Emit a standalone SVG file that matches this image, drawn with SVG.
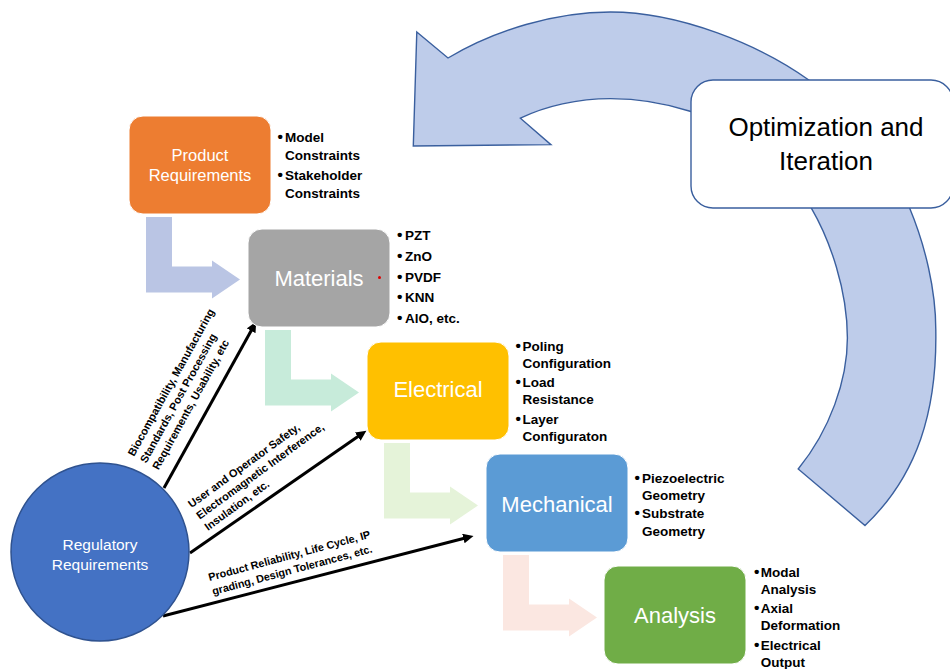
<svg xmlns="http://www.w3.org/2000/svg" width="950" height="669" viewBox="0 0 950 669">
<style>
.nt{font-family:"Liberation Sans",Arial,sans-serif;fill:#fff;text-anchor:middle}
.big{font-size:22px}
.bul{font-family:"Liberation Sans",Arial,sans-serif;font-weight:bold;font-size:13.5px;fill:#000}
.b{font-size:15.5px}
.lbl{font-family:"Liberation Sans",Arial,sans-serif;font-weight:bold;font-size:11px;fill:#000}
.box{stroke:#fff;stroke-width:1}
.blk{stroke:#000;stroke-width:3;fill:none;marker-end:url(#ah)}
</style>
<defs>
<marker id="ah" markerUnits="userSpaceOnUse" markerWidth="12" markerHeight="11" refX="2" refY="5" orient="auto">
<path d="M0,0 L10.5,5 L0,10 z" fill="#000"/>
</marker>
</defs>
<rect width="950" height="669" fill="#fff"/>

<g id="connectors">
<path id="loop-arrow" d="M416.8,32 L448,58 C495,30 555,12 610.5,12 C680,12 760,45 808.8,80 C850,110 890,160 909.5,207.8 C925,245 936,290 935.8,331 C937,410 918,475 865,525.5 L798.2,469 C830,430 847.4,380 847.4,338 C847.4,290 830,240 811.2,207.8 C780,160 730,125 691,111.5 C665,103 640,98.6 610.5,98.6 C578,98.6 545,106 520.4,118.2 L550.9,144.6 L413.3,146 Z" fill="#BECCEA" stroke="#3A5F9E" stroke-width="1.4" stroke-linejoin="miter"/>
<path id="flow1" d="M146,217 H172 V266.5 H212 V260.5 L240,279.5 L212,298.5 V292.5 H146 Z" fill="#BAC5E4"/>
<path id="flow2" d="M265,330 H291 V379.5 H331 V373.5 L359,392.5 L331,411.5 V405.5 H265 Z" fill="#C7EBDA"/>
<path id="flow3" d="M384,443 H410 V492.5 H450 V486.5 L478,505.5 L450,524.5 V518.5 H384 Z" fill="#E5F3D9"/>
<path id="flow4" d="M503,555 H529 V604.5 H569 V598.5 L597,617.5 L569,636.5 V630.5 H503 Z" fill="#FBE7E1"/>
<path class="blk" d="M164,488 L252.1,329"/>
<path class="blk" d="M190,553 L359.4,435.6"/>
<path class="blk" d="M163,616 L465.3,538"/>
<g class="lbl">
<text transform="translate(134,457) rotate(-61)"><tspan x="0" y="0">Biocompatibility, Manufacturing</tspan><tspan x="0" y="14">Standards, Post Processing</tspan><tspan x="0" y="28">Requirements, Usability, etc</tspan></text>
<text transform="translate(191.5,508.3) rotate(-36)"><tspan x="0" y="0">User and Operator Safety,</tspan><tspan x="0" y="14">Electromagnetic Interference,</tspan><tspan x="0" y="28">Insulation, etc.</tspan></text>
<text transform="translate(209.5,581) rotate(-15)" style="font-size:10.8px"><tspan x="0" y="0">Product Reliability, Life Cycle, IP</tspan><tspan x="0" y="14.5">grading, Design Tolerances, etc.</tspan></text>
</g>
</g>

<g id="optimization">
<rect x="691" y="80" width="262" height="128" rx="22" fill="#fff" stroke="#3A5F9E" stroke-width="1.4"/>
<text x="826" y="136" style="font-family:'Liberation Sans',Arial,sans-serif;font-size:26px;fill:#000;text-anchor:middle">Optimization and</text>
<text x="826" y="169.5" style="font-family:'Liberation Sans',Arial,sans-serif;font-size:26px;fill:#000;text-anchor:middle">Iteration</text>
</g>

<g id="product">
<rect class="box" x="129" y="116" width="142" height="98" rx="14" fill="#ED7D31"/>
<text class="nt" x="200" y="160.5" style="font-size:16.5px">Product</text>
<text class="nt" x="200" y="181" style="font-size:16.5px">Requirements</text>
<text class="bul"><tspan class="b" x="277.5" y="141.5">•</tspan><tspan x="285">Model</tspan><tspan x="285" y="160">Constraints</tspan><tspan class="b" x="277.5" y="179.5">•</tspan><tspan x="285">Stakeholder</tspan><tspan x="285" y="197.5">Constraints</tspan></text>
</g>

<g id="materials">
<rect class="box" x="248" y="229" width="142" height="98" rx="14" fill="#A5A5A5"/>
<text class="nt big" x="319" y="286">Materials</text>
<circle cx="379.5" cy="277.5" r="1.5" fill="#E00000"/>
<text class="bul"><tspan class="b" x="397" y="240">•</tspan><tspan x="405">PZT</tspan><tspan class="b" x="397" y="261">•</tspan><tspan x="405">ZnO</tspan><tspan class="b" x="397" y="281.5">•</tspan><tspan x="405">PVDF</tspan><tspan class="b" x="397" y="302.3">•</tspan><tspan x="405">KNN</tspan><tspan class="b" x="397" y="323">•</tspan><tspan x="405">AlO, etc.</tspan></text>
</g>

<g id="electrical">
<rect class="box" x="367" y="342" width="142" height="98" rx="14" fill="#FFC000"/>
<text class="nt big" x="438" y="397">Electrical</text>
<text class="bul"><tspan class="b" x="515.5" y="351">•</tspan><tspan x="522.5">Poling</tspan><tspan x="522.5" y="367.5">Configuration</tspan><tspan class="b" x="515.5" y="387">•</tspan><tspan x="522.5">Load</tspan><tspan x="522.5" y="403.5">Resistance</tspan><tspan class="b" x="515.5" y="423.5">•</tspan><tspan x="522.5">Layer</tspan><tspan x="522.5" y="440.5">Configuraton</tspan></text>
</g>

<g id="mechanical">
<rect class="box" x="486" y="454" width="142" height="98" rx="14" fill="#5B9BD5"/>
<text class="nt big" x="557" y="511.5">Mechanical</text>
<text class="bul"><tspan class="b" x="634.5" y="483">•</tspan><tspan x="642">Piezoelectric</tspan><tspan x="642" y="499.5">Geometry</tspan><tspan class="b" x="634.5" y="518">•</tspan><tspan x="642">Substrate</tspan><tspan x="642" y="536">Geometry</tspan></text>
</g>

<g id="analysis">
<rect class="box" x="604" y="566" width="142" height="98" rx="14" fill="#70AD47"/>
<text class="nt big" x="675" y="623">Analysis</text>
<text class="bul"><tspan class="b" x="754" y="577">•</tspan><tspan x="760.7">Modal</tspan><tspan x="760.7" y="593.5">Analysis</tspan><tspan class="b" x="754" y="613">•</tspan><tspan x="760.7">Axial</tspan><tspan x="760.7" y="630">Deformation</tspan><tspan class="b" x="754" y="650">•</tspan><tspan x="760.7">Electrical</tspan><tspan x="760.7" y="666.5">Output</tspan></text>
</g>

<g id="regulatory">
<circle cx="100" cy="552" r="89" fill="#4472C4" stroke="#2F528F" stroke-width="1.5"/>
<text class="nt" x="100" y="549.5" style="font-size:15.5px">Regulatory</text>
<text class="nt" x="100" y="569.5" style="font-size:15.5px">Requirements</text>
</g>
</svg>
